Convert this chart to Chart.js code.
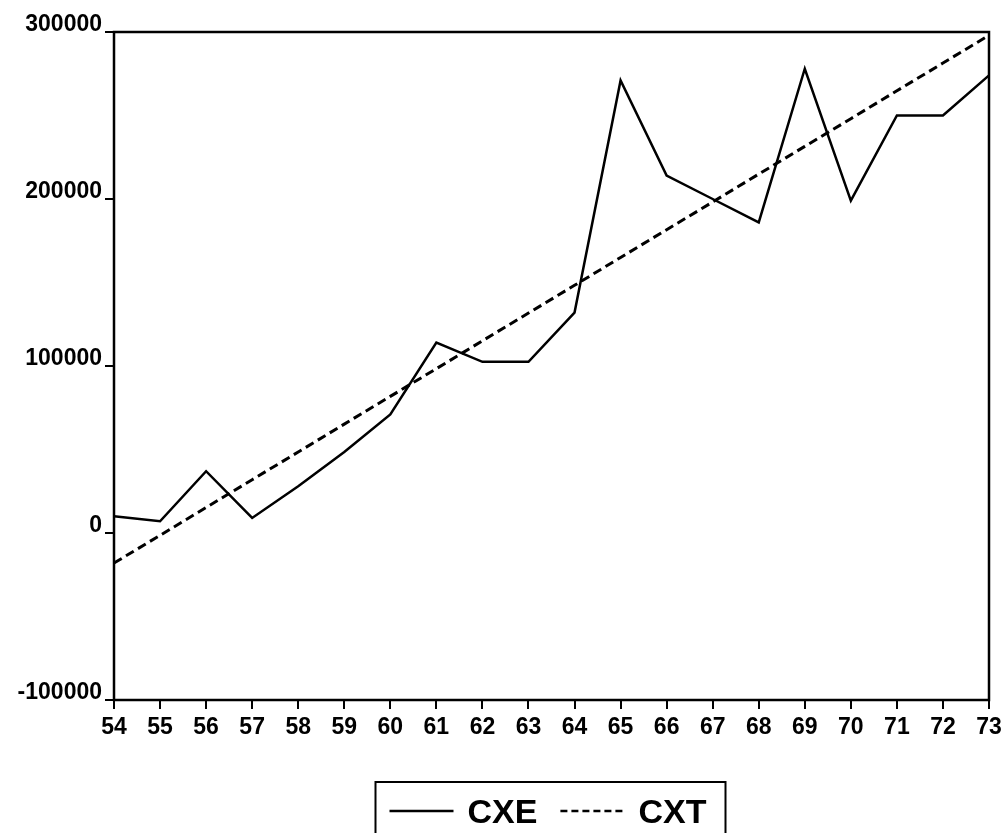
<!DOCTYPE html>
<html>
<head>
<meta charset="utf-8">
<script src="https://cdn.jsdelivr.net/npm/chart.js@4.4.1/dist/chart.umd.min.js"></script>
<style>
  html, body { margin: 0; padding: 0; background: #fff; }
  #chart { display: block; }
</style>
</head>
<body>
<canvas id="chart" width="1002" height="833"></canvas>
<script>
// years 1954-1973, shown as two digits
const years = ['54', '55', '56', '57', '58', '59', '60', '61', '62', '63',
  '64', '65', '66', '67', '68', '69', '70', '71', '72', '73']

// observed series (solid)
const cxe = [10000, 7000, 37000, 9000, 28000, 48500, 71000, 114000, 102500, 102500,
  132000, 271000, 214000, 200000, 186000, 278000, 199000, 250000, 250000, 274000]

// fitted trend (dashed)
const cxt = [-18000, -1400, 15300, 31900, 48500, 65200, 81800, 98400, 115100, 131700,
  148300, 165000, 181600, 198200, 214900, 231500, 248100, 264800, 281400, 298000]

const yMin = -100000
const yMax = 300000
const yStep = 100000

const legendItems = [
  { label: 'CXE', dash: [] },
  { label: 'CXT', dash: [7, 4] },
]

const FONT = '"Liberation Sans", Arial, sans-serif'

const framePlugin = {
  id: 'frame',
  afterDatasetsDraw(chart) {
    const { ctx, chartArea: a } = chart
    ctx.save()
    ctx.strokeStyle = '#000'
    ctx.lineWidth = 2.5
    ctx.strokeRect(a.left, a.top, a.right - a.left, a.bottom - a.top)
    ctx.restore()
  },
}

const legendPlugin = {
  id: 'boxLegend',
  afterDraw(chart) {
    const { ctx, chartArea: a, height } = chart
    const mid = (a.left + a.right) / 2
    const boxL = mid - 176
    const boxR = mid + 174
    const boxT = 782
    ctx.save()
    ctx.strokeStyle = '#000'
    ctx.lineWidth = 2
    ctx.beginPath()
    ctx.moveTo(boxL, height)
    ctx.lineTo(boxL, boxT)
    ctx.lineTo(boxR, boxT)
    ctx.lineTo(boxR, height)
    ctx.stroke()

    ctx.font = 'bold 34px ' + FONT
    ctx.fillStyle = '#000'
    ctx.textBaseline = 'alphabetic'
    let x = boxL + 14
    legendItems.forEach(item => {
      ctx.setLineDash(item.dash)
      ctx.lineWidth = 2.5
      ctx.beginPath()
      ctx.moveTo(x, 811)
      ctx.lineTo(x + 64, 811)
      ctx.stroke()
      ctx.setLineDash([])
      x += 78
      ctx.fillText(item.label, x, 823)
      x += ctx.measureText(item.label).width + 23
    })
    ctx.restore()
  },
}

new Chart(document.getElementById('chart'), {
  type: 'line',
  data: {
    labels: years,
    datasets: [
      {
        label: 'CXE',
        data: cxe,
        borderColor: '#000',
        borderWidth: 2.5,
        pointRadius: 0,
        tension: 0,
      },
      {
        label: 'CXT',
        data: cxt,
        borderColor: '#000',
        borderWidth: 3,
        borderDash: [9, 5],
        pointRadius: 0,
        tension: 0,
      },
    ],
  },
  options: {
    responsive: false,
    animation: false,
    layout: {
      padding: { top: 32, right: 13, left: 0, bottom: 0 },
    },
    plugins: {
      legend: { display: false },
      tooltip: { enabled: false },
    },
    scales: {
      x: {
        offset: false,
        border: { display: false },
        grid: { drawOnChartArea: false, drawTicks: true, tickLength: 9, color: '#000', lineWidth: 2 },
        ticks: {
          color: '#000',
          font: { family: FONT, size: 23, weight: 'bold' },
          padding: 5,
          maxRotation: 0,
          autoSkip: false,
        },
        afterFit: s => {
          s.height = 133
          s.paddingLeft = 0
          s.paddingRight = 0
        },
      },
      y: {
        min: yMin,
        max: yMax,
        border: { display: false },
        grid: { drawOnChartArea: false, drawTicks: true, tickLength: 9, color: '#000', lineWidth: 2 },
        ticks: {
          stepSize: yStep,
          color: '#000',
          padding: 3,
          font: { family: FONT, size: 23, weight: 'bold', lineHeight: 0.62 },
          // second empty line lifts the label so it sits on its tick
          callback: v => [String(v), ''],
        },
        afterFit: s => { s.width = 114 },
      },
    },
  },
  plugins: [framePlugin, legendPlugin],
})
</script>
</body>
</html>
